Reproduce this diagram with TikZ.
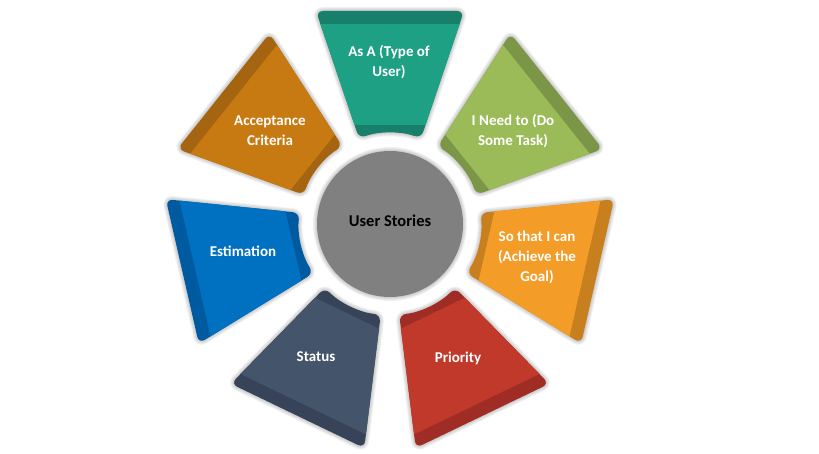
\documentclass[tikz,border=0pt]{standalone}
\usepackage{fontspec}
\setmainfont{Carlito}
\definecolor{tealmain}{RGB}{30,160,132}
\definecolor{tealdark}{RGB}{24,128,106}
\definecolor{greenmain}{RGB}{155,187,89}
\definecolor{greendark}{RGB}{122,150,70}
\definecolor{orangemain}{RGB}{243,156,40}
\definecolor{orangedark}{RGB}{200,128,30}
\definecolor{redmain}{RGB}{192,57,43}
\definecolor{reddark}{RGB}{160,45,37}
\definecolor{slatemain}{RGB}{68,84,106}
\definecolor{slatedark}{RGB}{54,67,88}
\definecolor{bluemain}{RGB}{0,112,192}
\definecolor{bluedark}{RGB}{0,90,160}
\definecolor{brownmain}{RGB}{200,122,18}
\definecolor{browndark}{RGB}{165,100,15}
\definecolor{hubgray}{RGB}{128,128,128}
\begin{document}
\begin{tikzpicture}[x=1pt, y=1pt]
            \tikzset{lbl/.style={text=white, font=\bfseries\fontsize{15}{20}\selectfont, align=center}}
            \tikzset{glow/.style={draw=black, opacity=0.05, line join=round}}
            \useasboundingbox (-390,-230) rectangle (429,224);
            \def\segpath{(213,74) -- (213,-74) -- (85.6,-31) arc[start angle=-19.9, end angle=19.9, radius=91pt] -- cycle}
            % seven segments round the hub
            \foreach \ang/\main/\dark in {90/tealmain/tealdark, 38.571/greenmain/greendark,
                -12.857/orangemain/orangedark, -64.286/redmain/reddark, -115.714/slatemain/slatedark,
                -167.143/bluemain/bluedark, 141.429/brownmain/browndark} {
                \begin{scope}[rotate=\ang]
                    \foreach \w in {2,4,6,8} \draw[glow, line width=\w pt, rounded corners=7pt] \segpath;
                    \begin{scope}
                        \clip[rounded corners=7pt] \segpath;
                        \fill[\dark] (80,-80) rectangle (220,80);
                        \fill[\main] (99,-80) rectangle (200,80);
                    \end{scope}
                \end{scope}
            }
            % hub
            \foreach \w in {2,4,6,8} \draw[glow, line width=\w pt] (0,0) circle (73pt);
            \fill[hubgray] (0,0) circle (73pt);
            \node[lbl, text=black, font=\bfseries\fontsize{16.5}{20}\selectfont] (stories) at (0,3) {User Stories};
            \node[lbl] (asa) at (-1,162) {As A (Type of\\User)};
            \node[lbl] (ineed) at (123,93) {I Need to (Do\\Some Task)};
            \node[lbl] (sothat) at (147,-33) {So that I can\\(Achieve the\\Goal)};
            \node[lbl] (priority) at (68,-134) {Priority};
            \node[lbl] (status) at (-74,-133) {Status};
            \node[lbl] (estimation) at (-147,-27) {Estimation};
            \node[lbl] (acceptance) at (-120,93) {Acceptance\\Criteria};
        \end{tikzpicture}
\end{document}
